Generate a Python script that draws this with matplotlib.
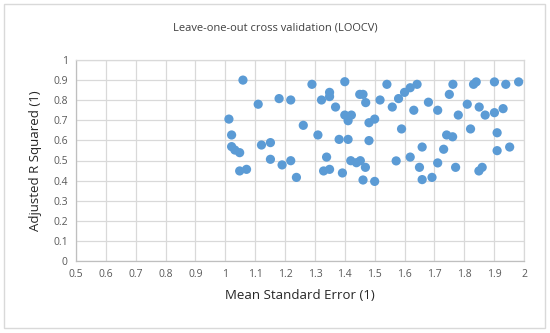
import matplotlib
matplotlib.use("Agg")
import matplotlib.pyplot as plt
from matplotlib.patches import Rectangle

mse = [1.059, 1.012, 1.021, 1.021, 1.032, 1.048, 1.048, 1.071, 1.110, 1.121,
       1.151, 1.151, 1.180, 1.219, 1.190, 1.219, 1.238, 1.261, 1.290, 1.310,
       1.322, 1.349, 1.349, 1.369, 1.339, 1.329, 1.349, 1.381, 1.392, 1.400,
       1.400, 1.422, 1.411, 1.411, 1.420, 1.439, 1.452, 1.469, 1.461, 1.500,
       1.450, 1.461, 1.470, 1.481, 1.500, 1.481, 1.518,
       1.541, 1.559, 1.580, 1.600, 1.619, 1.642, 1.631, 1.590, 1.572, 1.619,
       1.659, 1.650, 1.659, 1.692, 1.680, 1.711, 1.711, 1.731, 1.741, 1.761,
       1.771, 1.750, 1.762, 1.780, 1.810, 1.821, 1.831, 1.840, 1.850, 1.870,
       1.849, 1.860, 1.901, 1.901, 1.930, 1.939, 1.982, 1.910, 1.910, 1.952]
adj_r2 = [0.900, 0.706, 0.627, 0.569, 0.552, 0.539, 0.448, 0.456, 0.780, 0.577,
          0.589, 0.506, 0.808, 0.801, 0.478, 0.499, 0.416, 0.675, 0.879, 0.627,
          0.801, 0.839, 0.818, 0.766, 0.517, 0.448, 0.456, 0.605, 0.438, 0.892,
          0.726, 0.726, 0.698, 0.605, 0.499, 0.489, 0.499, 0.466, 0.403, 0.396,
          0.829, 0.829, 0.788, 0.688, 0.706, 0.599, 0.801,
          0.879, 0.766, 0.808, 0.839, 0.862, 0.879, 0.750, 0.657, 0.498, 0.517,
          0.567, 0.466, 0.405, 0.416, 0.790, 0.750, 0.488, 0.556, 0.627, 0.618,
          0.466, 0.829, 0.879, 0.726, 0.780, 0.657, 0.879, 0.891, 0.766, 0.726,
          0.448, 0.466, 0.891, 0.738, 0.758, 0.879, 0.891, 0.638, 0.549, 0.567]

x_ticks = [0.5, 0.6, 0.7, 0.8, 0.9, 1.0, 1.1, 1.2, 1.3, 1.4, 1.5, 1.6, 1.7, 1.8, 1.9, 2.0]
x_labels = ["0.5", "0.6", "0.7", "0.8", "0.9", "1", "1.1", "1.2", "1.3", "1.4",
            "1.5", "1.6", "1.7", "1.8", "1.9", "2"]
y_ticks = [0, 0.1, 0.2, 0.3, 0.4, 0.5, 0.6, 0.7, 0.8, 0.9, 1.0]
y_labels = ["0", "0.1", "0.2", "0.3", "0.4", "0.5", "0.6", "0.7", "0.8", "0.9", "1"]

plt.rcParams['font.family'] = ['Open Sans', 'DejaVu Sans']

fig = plt.figure(figsize=(5.5, 3.33), dpi=100)
ax = fig.add_axes([76/550, 1-261/333, (524-76)/550, (261-60)/333])

ax.scatter(mse, adj_r2, s=44, color='#5B9BD5', edgecolors='none', zorder=3)

ax.set_xlim(0.5, 2.0)
ax.set_ylim(0, 1)
ax.set_xticks(x_ticks)
ax.set_xticklabels(x_labels)
ax.set_yticks(y_ticks)
ax.set_yticklabels(y_labels)
ax.tick_params(length=0, labelsize=7.5, labelcolor='#595959', pad=6)
ax.grid(True, color='#D9D9D9', linewidth=0.9, zorder=0)
for s in ax.spines.values():
    s.set_color('#D9D9D9')
    s.set_linewidth(0.9)
ax.spines['left'].set_color('#BFBFBF')
ax.spines['bottom'].set_color('#BFBFBF')

ax.set_xlabel("Mean Standard Error (1)", fontsize=9.5, color='#262626', labelpad=6)
ax.set_ylabel("Adjusted R Squared (1)", fontsize=9.5, color='#262626', labelpad=8)
fig.text(0.5, 1-28/333, "Leave-one-out cross validation (LOOCV)", ha='center', va='center',
         fontsize=8, color='#404040')

fig.patches.append(Rectangle((4/550, 5/333), 541/550, 324/333, transform=fig.transFigure,
                             fill=False, edgecolor='#D9D9D9', linewidth=1))

fig.savefig("out.png", dpi=100)
